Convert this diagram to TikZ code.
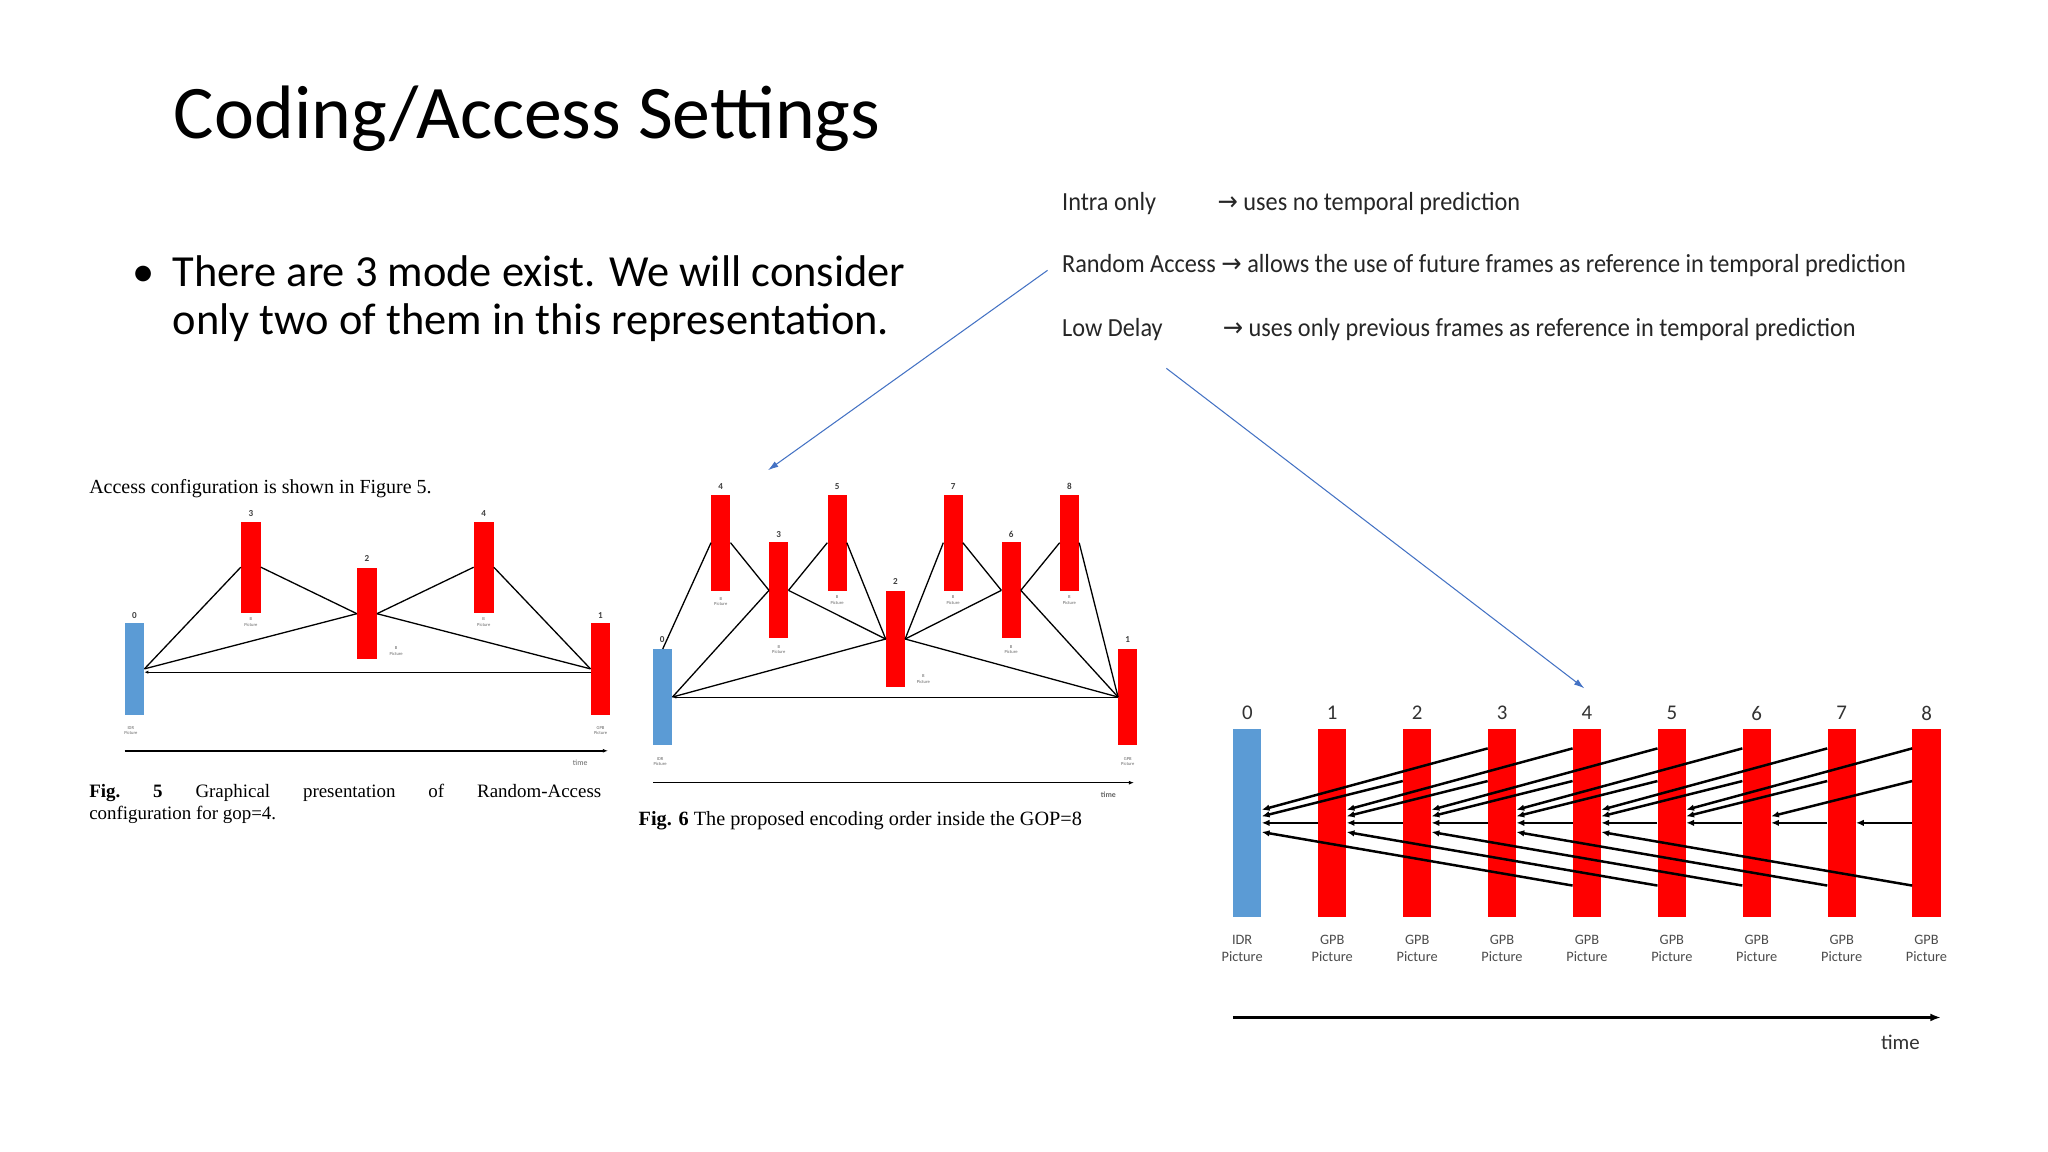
\documentclass[tikz,border=0pt]{standalone}
\usepackage{fontspec}
\setmainfont{Carlito}
\newfontfamily\tms{Liberation Serif}
\newfontfamily\dv{DejaVu Sans}
\usetikzlibrary{arrows.meta,calc}
\definecolor{rbar}{HTML}{FF0000}
\definecolor{bbar}{HTML}{5B9BD5}
\definecolor{pbl}{HTML}{4472C4}
\tikzset{
  redbar/.style={fill=rbar,draw=none,inner sep=0},
  bluebar/.style={fill=bbar,draw=none,inner sep=0},
  smallbar/.style={minimum width=15pt,minimum height=70pt},
  sixbar/.style={minimum width=14.5pt,minimum height=73.3pt},
  ldbar/.style={minimum width=21.6pt,minimum height=144pt},
  num/.style={font=\fontsize{7}{8}\selectfont\bfseries,text=black!75,inner sep=0},
  tiny/.style={font=\fontsize{3.5}{4}\selectfont,text=black!60,align=center,inner sep=0},
  ref/.style={line width=1pt,black},
  refa/.style={line width=0.8pt,black,-{Latex[length=3pt,width=2.5pt]}},
  ldref/.style={line width=1.9pt,black,-{Latex[length=6pt,width=5pt]}},
  bluearr/.style={pbl,line width=0.8pt,-{Latex[length=8pt,width=5pt]}},
  desc/.style={anchor=base west,font=\fontsize{20}{22}\selectfont,inner sep=0,text=black!85},
}
\begin{document}
\begin{tikzpicture}[x=1pt,y=-1pt]
\useasboundingbox[fill=white] (0,0) rectangle (1568,882);
% title
\node[anchor=base west,inner sep=0,font=\fontsize{58}{64}\selectfont] (title) at (133,106) {Coding/Access Settings};
\node[anchor=base west,inner sep=0,font=\fontsize{34}{40}\selectfont] (bul) at (101,219) {\textbullet};
\node[anchor=base west,inner sep=0,font=\fontsize{34}{40}\selectfont] (b1) at (132,219) {There are 3 mode exist. We will consider};
\node[anchor=base west,inner sep=0,font=\fontsize{34}{40}\selectfont] (b2) at (132,256) {only two of them in this representation.};
% descriptions
\node[desc] (io) at (813,161) {\scalebox{0.93}[1]{Intra only}};
\node[desc] (ioa) at (932,161) {\scalebox{0.93}[1]{{\dv →} uses no temporal prediction}};
\node[desc] (ra) at (813,209) {\scalebox{0.93}[1]{Random Access {\dv →} allows the use of future frames as reference in temporal prediction}};
\node[desc] (ld) at (813,258) {\scalebox{0.93}[1]{Low Delay}};
\node[desc] (lda) at (936,258) {\scalebox{0.93}[1]{{\dv →} uses only previous frames as reference in temporal prediction}};
\coordinate (raS) at (802,207);
\coordinate (raE) at (588,360);
\coordinate (ldS) at (893,282);
\coordinate (ldE) at (1213,527);
\draw[bluearr] (raS) -- (raE);
\draw[bluearr] (ldS) -- (ldE);

% ---------- Fig 5 ----------
\begin{scope}[shift={(61.3,352.1)},xscale=0.2735,yscale=0.256]
\node[anchor=base west,inner sep=0,font=\tms\fontsize{15.3}{17}\selectfont] (acc) at (25,100) {Access configuration is shown in Figure 5.};
\node[bluebar,smallbar] (a0) at (152,625) {};
\node[redbar,smallbar] (a3) at (478,321) {};
\node[redbar,smallbar] (a2) at (803,460) {};
\node[redbar,smallbar] (a4) at (1130,321) {};
\node[redbar,smallbar] (a1) at (1457,625) {};
\node[num] at (152,465) {0};
\node[num] at (478,160) {3};
\node[num] at (803,295) {2};
\node[num] at (1130,160) {4};
\node[num] at (1457,465) {1};
\node[tiny] at (478,485) {B\\Picture};
\node[tiny] at (1130,485) {B\\Picture};
\node[tiny] at (885,572) {B\\Picture};
\node[tiny] at (142,810) {IDR\\Picture};
\node[tiny] at (1457,810) {GPB\\Picture};
\draw[ref] (a0.east) -- (a3.west);
\draw[ref] (a3.east) -- (a2.west);
\draw[ref] (a2.east) -- (a4.west);
\draw[ref] (a4.east) -- (a1.west);
\draw[ref] (a0.east) -- (a2.west);
\draw[ref] (a2.east) -- (a1.west);
\draw[refa] ($(a1.west)+(0,10)$) -- ($(a0.east)+(0,10)$);
\coordinate (t5s) at (125,870);
\coordinate (t5e) at (1478,870);
\draw[line width=1.2pt,-{Latex[length=4pt,width=3pt]}] (t5s) -- (t5e);
\node[tiny,font=\fontsize{6}{7}\selectfont] at (1400,905) {time};
\node[anchor=base west,inner sep=0,font=\tms\fontsize{14.5}{17}\selectfont,text width=392pt,align=justify] (cap5) at (25,1010) {\textbf{Fig.}\hfill\textbf{5}\hfill Graphical\hfill presentation\hfill of\hfill Random-Access\\configuration for gop=4.};
\end{scope}

% ---------- Fig 6 ----------
\begin{scope}[shift={(482.4,352.2)},xscale=0.2552,yscale=0.2552]
\node[bluebar,sixbar] (c0) at (98,711) {};
\node[redbar,sixbar] (c4) at (272,248) {};
\node[redbar,sixbar] (c3) at (446,391) {};
\node[redbar,sixbar] (c5) at (621,248) {};
\node[redbar,sixbar] (c2) at (796,537) {};
\node[redbar,sixbar] (c7) at (969,248) {};
\node[redbar,sixbar] (c6) at (1143,391) {};
\node[redbar,sixbar] (c8) at (1318,248) {};
\node[redbar,sixbar] (c1) at (1493,711) {};
\node[num] at (96,540) {0};
\node[num] at (272,80) {4};
\node[num] at (446,224) {3};
\node[num] at (621,80) {5};
\node[num] at (796,365) {2};
\node[num] at (969,80) {7};
\node[num] at (1143,224) {6};
\node[num] at (1318,80) {8};
\node[num] at (1493,540) {1};
\foreach \n/\x/\y in {4/272/425,5/621/420,7/969/420,8/1318/420,3/446/568,6/1143/568}
  \node[tiny] at (\x,\y) {B\\Picture};
\node[tiny] at (880,657) {B\\Picture};
\node[tiny] at (90,905) {IDR\\Picture};
\node[tiny] at (1493,905) {GPB\\Picture};
\draw[ref] (c4.west) -- (c0.north);
\draw[ref] (c4.east) -- (c3.west);
\draw[ref] (c3.east) -- (c5.west);
\draw[ref] (c5.east) -- (c2.west);
\draw[ref] (c3.east) -- (c2.west);
\draw[ref] (c3.west) -- (c0.east);
\draw[ref] (c2.west) -- (c0.east);
\draw[ref] (c2.east) -- (c7.west);
\draw[ref] (c2.east) -- (c6.west);
\draw[ref] (c7.east) -- (c6.west);
\draw[ref] (c6.east) -- (c8.west);
\draw[ref] (c6.east) -- (c1.west);
\draw[ref] (c8.east) -- (c1.west);
\draw[ref] (c2.east) -- (c1.west);
\draw[refa] (c1.west) -- (c0.east);
\coordinate (t6s) at (70,968);
\coordinate (t6e) at (1512,968);
\draw[line width=1.2pt,-{Latex[length=4pt,width=3pt]}] (t6s) -- (t6e);
\node[tiny,font=\fontsize{6}{7}\selectfont\bfseries] at (1435,1005) {time};
\node[anchor=base west,inner sep=0,font=\tms\fontsize{15.5}{17}\selectfont] (cap6) at (25,1095) {\textbf{Fig. 6} The proposed encoding order inside the GOP=8};
\end{scope}

% ---------- Low delay ----------
\node[bluebar,ldbar] (l0) at (955,630) {};
\foreach \k in {1,...,8}
  \node[redbar,ldbar] (l\k) at (955+65*\k,630) {};
\foreach \k in {0,...,8}
  \node[font=\fontsize{16}{18}\selectfont,text=black!80,inner sep=0] (n\k) at (955+65*\k,546) {\k};
\node[font=\fontsize{11}{13}\selectfont,text=black!70,align=center,inner sep=0] (p0) at (951,726) {IDR\\Picture};
\foreach \k in {1,...,8}
  \node[font=\fontsize{11}{13}\selectfont,text=black!70,align=center,inner sep=0] (p\k) at (955+65*\k,726) {GPB\\Picture};
\foreach \k in {1,...,8}{
  \pgfmathtruncatemacro{\a}{\k-1}
  \draw[ldref] (l\k.west) -- (l\a.east);
}
\foreach \k in {2,...,8}{
  \pgfmathtruncatemacro{\a}{\k-2}
  \draw[ldref] ($(l\k.west)+(0,-32)$) -- ($(l\a.east)+(0,-5)$);
}
\foreach \k in {3,...,8}{
  \pgfmathtruncatemacro{\a}{\k-3}
  \draw[ldref] ($(l\k.west)+(0,-57)$) -- ($(l\a.east)+(0,-10)$);
}
\foreach \k in {4,...,8}{
  \pgfmathtruncatemacro{\a}{\k-4}
  \draw[ldref] ($(l\k.west)+(0,48)$) -- ($(l\a.east)+(0,7)$);
}
\coordinate (tls) at (944,779);
\coordinate (tle) at (1486,779);
\draw[line width=2pt,-{Latex[length=8pt,width=6pt]}] (tls) -- (tle);
\node[font=\fontsize{16}{18}\selectfont,text=black!80,inner sep=0] (tl) at (1455,798) {time};
\end{tikzpicture}
\end{document}
